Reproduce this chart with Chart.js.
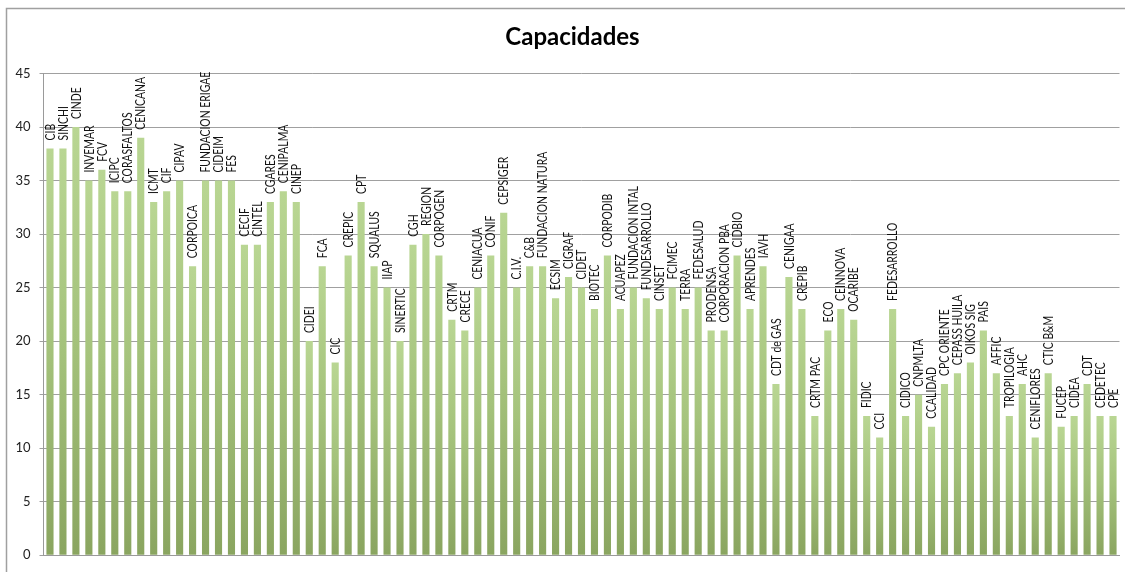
<!DOCTYPE html>
<html>
<head>
<meta charset="utf-8">
<script src="https://cdn.jsdelivr.net/npm/chart.js@4.4.0/dist/chart.umd.min.js"></script>
<style>
html,body{margin:0;padding:0;background:#fff;}
#wrap{width:1125px;height:572px;position:relative;}
</style>
</head>
<body>
<div id="wrap"><canvas id="c" width="1125" height="572"></canvas></div>
<script>
const categories = ["CIB","SINCHI","CINDE","INVEMAR","FCV","ICIPC","CORASFALTOS","CENICANA","ICMT","CIF","CIPAV","CORPOICA","FUNDACION ERIGAE","CIDEIM","FES","CECIF","CINTEL","CGARES","CENIPALMA","CINEP","CIDEI","FCA","CIC","CREPIC","CPT","SQUALUS","IIAP","SINERTIC","CGH","REGION","CORPOGEN","CRTM","CRECE","CENIACUA","CONIF","CEPSIGER","C.I.V.","C&B","FUNDACION NATURA","ECSIM","CIGRAF","CIDET","BIOTEC","CORPODIB","ACUAPEZ","FUNDACION INTAL","FUNDESARROLLO","CINSET","FCIMEC","TERRA","FEDESALUD","PRODENSA","CORPORACION PBA","CIDBIO","APRENDES","IAVH","CDT de GAS","CENIGAA","CREPIB","CRTM PAC","ECO","CEINNOVA","OCARIBE","FIDIC","CCI","FEDESARROLLO","CIDICO","CNPMLTA","CCALIDAD","CPC ORIENTE","CEPASS HUILA","OIKOS SIG","PAIS","AFFIC","TROPILOGIA","AHC","CENIFLORES","CTIC B&M","FUCEP","CIDEA","CDT","CEDETEC","CPE"];
const capacidades = [38,38,40,35,36,34,34,39,33,34,35,27,35,35,35,29,29,33,34,33,20,27,18,28,33,27,25,20,29,30,28,22,21,25,28,32,25,27,27,24,26,25,23,28,23,25,24,23,25,23,25,21,21,28,23,27,16,26,23,13,21,23,22,13,11,23,13,15,12,16,17,18,21,17,13,16,11,17,12,13,16,13,13];
const yTicks = [0,5,10,15,20,25,30,35,40,45];
const titleText = "Capacidades";

const FONT = "Lato, 'Open Sans', sans-serif";

const framePlugin = {
  id: 'frame',
  beforeDraw(chart) {
    const ctx = chart.ctx;
    ctx.save();
    ctx.fillStyle = '#fff';
    ctx.fillRect(0, 0, chart.width, chart.height);
    ctx.strokeStyle = '#a0a0a0';
    ctx.lineWidth = 1.5;
    ctx.strokeRect(6.5, 8.5, chart.width + 20, chart.height + 20);
    ctx.restore();
  },
  afterDraw(chart) {
    const ctx = chart.ctx;
    const area = chart.chartArea;
    ctx.save();
    ctx.fillStyle = '#000';
    ctx.font = "bold 24px " + FONT;
    ctx.textAlign = 'center';
    ctx.textBaseline = 'middle';
    ctx.fillText(titleText, (area.left + area.right) / 2 - 9, 37);
    ctx.restore();
  }
};

const labelPlugin = {
  id: 'barLabels',
  afterDatasetsDraw(chart) {
    const ctx = chart.ctx;
    const meta = chart.getDatasetMeta(0);
    ctx.save();
    ctx.fillStyle = '#111';
    ctx.font = "13px " + FONT;
    ctx.textAlign = 'left';
    ctx.textBaseline = 'middle';
    meta.data.forEach((bar, i) => {
      ctx.save();
      ctx.translate(bar.x + 0.5, bar.y - 8);
      ctx.rotate(-Math.PI / 2);
      ctx.scale(0.8, 1);
      ctx.fillText(categories[i], 0, 0);
      ctx.restore();
    });
    ctx.restore();
  }
};

function barGradient(context) {
  const chart = context.chart;
  const ys = chart.scales && chart.scales.y;
  if (!ys || context.dataIndex === undefined) return '#a3c17a';
  const v = context.dataset.data[context.dataIndex];
  const top = ys.getPixelForValue(v);
  const bottom = ys.getPixelForValue(0);
  if (!isFinite(top) || !isFinite(bottom) || top === bottom) return '#a3c17a';
  const g = chart.ctx.createLinearGradient(0, top, 0, bottom);
  g.addColorStop(0, '#b9d693');
  g.addColorStop(0.5, '#a4c27b');
  g.addColorStop(1, '#8aa560');
  return g;
}

new Chart(document.getElementById('c'), {
  type: 'bar',
  data: {
    labels: categories,
    datasets: [{
      data: capacidades,
      backgroundColor: barGradient,
      borderWidth: 0,
      categoryPercentage: 1.0,
      barPercentage: 0.55
    }]
  },
  options: {
    responsive: false,
    animation: false,
    devicePixelRatio: 1,
    layout: { padding: { top: 73.5, right: 5.5, bottom: 15.3, left: 0 } },
    plugins: {
      legend: { display: false },
      title: { display: false },
      tooltip: { enabled: false }
    },
    scales: {
      x: {
        ticks: { display: false },
        grid: { display: false, drawTicks: false },
        border: { display: true, color: '#9a9a9a', width: 1 },
        afterFit(scale) { scale.height = 0; }
      },
      y: {
        min: 0,
        max: 45,
        afterBuildTicks(scale) { scale.ticks = yTicks.map(v => ({ value: v })); },
        ticks: {
          color: '#222',
          font: { size: 13, family: FONT },
          padding: 9
        },
        grid: { color: '#a0a0a0', lineWidth: 1, tickLength: 4 },
        border: { display: true, color: '#9a9a9a', width: 1 },
        afterFit(scale) { scale.width = 43.5; }
      }
    }
  },
  plugins: [framePlugin, labelPlugin]
});
</script>
</body>
</html>
